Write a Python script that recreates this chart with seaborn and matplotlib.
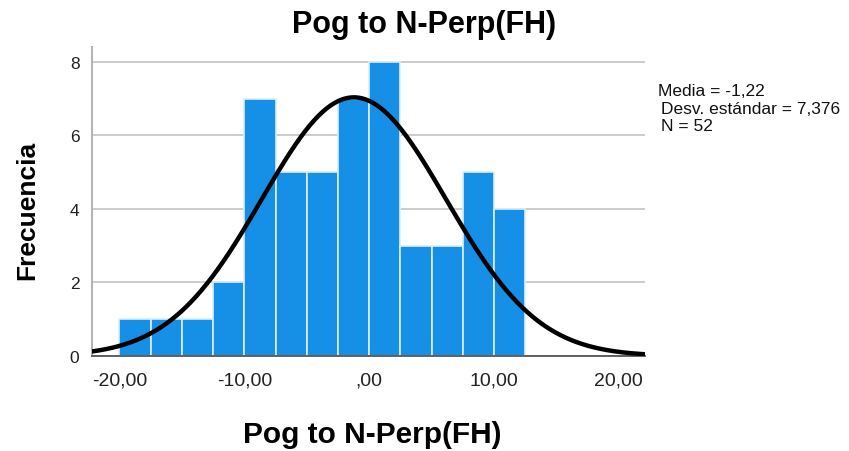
import numpy as np
import matplotlib
matplotlib.use("Agg")
import matplotlib.pyplot as plt
import seaborn as sns

# =========================
# Data
# =========================
bin_edges = [-20.0, -17.5, -15.0, -12.5, -10.0, -7.5, -5.0, -2.5,
             0.0, 2.5, 5.0, 7.5, 10.0, 12.5]
counts = [1, 1, 1, 2, 7, 5, 5, 7, 8, 3, 3, 5, 4]

mean_val = -1.22
sd_val = 7.376
n_obs = 52

xticks = [-20, -10, 0, 10, 20]
xtick_labels = ["-20,00", "-10,00", ",00", "10,00", "20,00"]
yticks = [0, 2, 4, 6, 8]

stats_lines = ["Media = -1,22", "Desv. estándar = 7,376", "N = 52"]

# =========================
# Setup
# =========================
sns.set_theme(style="white")
plt.rcParams["font.family"] = ["Liberation Sans", "DejaVu Sans"]

BAR_COLOR = "#1590e6"
W, H = 849, 452

fig = plt.figure(figsize=(W / 100, H / 100), dpi=100)
ax = fig.add_axes([92 / W, 1 - 357 / H, (645 - 92) / W, (357 - 48) / H])

centers = [(a + b) / 2 for a, b in zip(bin_edges[:-1], bin_edges[1:])]
sns.histplot(x=centers, weights=counts, bins=bin_edges, ax=ax,
             color=BAR_COLOR, alpha=1, edgecolor="#dceefb", linewidth=1.2,
             zorder=2)

# normal curve scaled to counts
xlim = (-22.2, 22.1)
bw = bin_edges[1] - bin_edges[0]
xs = np.linspace(xlim[0], xlim[1], 400)
ys = n_obs * bw * np.exp(-0.5 * ((xs - mean_val) / sd_val) ** 2) / (sd_val * np.sqrt(2 * np.pi))
sns.lineplot(x=xs, y=ys, ax=ax, color="black", linewidth=3.2, zorder=3)

ax.set_xlim(*xlim)
ax.set_ylim(0, 8.4)
ax.set_xticks(xticks)
ax.set_xticklabels(xtick_labels)
ax.set_yticks(yticks)
ax.tick_params(axis="x", length=0, pad=11, labelsize=14, colors="#222222")
ax.tick_params(axis="y", length=0, pad=9, labelsize=12.5, colors="#222222")
ax.yaxis.grid(True, color="#c8c8c8", linewidth=1.3, zorder=0)
ax.set_axisbelow(True)
ax.set_xlabel("")
ax.set_ylabel("")

for side in ["top", "right"]:
    ax.spines[side].set_visible(False)
ax.spines["left"].set_color("#b4b4b4")
ax.spines["left"].set_linewidth(1.5)
ax.spines["bottom"].set_color("#555555")
ax.spines["bottom"].set_linewidth(1.3)

# titles / labels
fig.text(424 / W, 1 - 33 / H, "Pog to N-Perp(FH)", ha="center", va="baseline",
         fontsize=22, fontweight="bold", color="black")
fig.text(372 / W, 1 - 443 / H, "Pog to N-Perp(FH)", ha="center", va="baseline",
         fontsize=21.5, fontweight="bold", color="black")
fig.text(27.5 / W, 1 - 210 / H, "Frecuencia", ha="center", va="center",
         rotation=90, fontsize=19, fontweight="bold", color="black")

# stats box text
stats_x = [658, 661, 661]
stats_y = [92, 109, 127]
for txt, sx, sy in zip(stats_lines, stats_x, stats_y):
    fig.text(sx / W, 1 - sy / H, txt, ha="left", va="center",
             fontsize=12.5, color="#111111")

fig.savefig("out.png", dpi=100)
